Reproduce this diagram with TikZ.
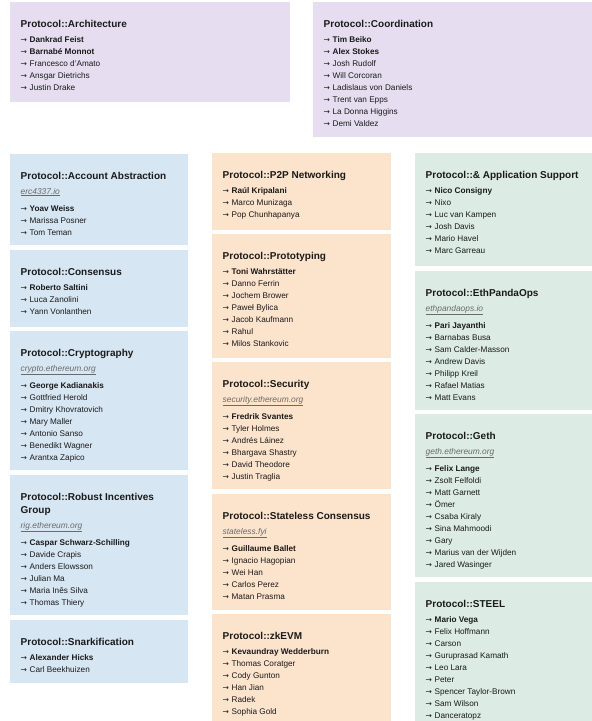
\documentclass[tikz,border=0pt]{standalone}
\usepackage{fontspec}
\setmainfont{Liberation Sans}
\newfontfamily\arrowfont{DejaVu Sans}
\usepackage{xcolor}
\usepackage{tikz}
\usetikzlibrary{positioning,calc}
\definecolor{tlav}{HTML}{E6DEF0}
\definecolor{tblue}{HTML}{D7E6F3}
\definecolor{tpeach}{HTML}{FCE3CC}
\definecolor{tmint}{HTML}{DCEBE4}
\definecolor{tink}{HTML}{1A1A1A}
\definecolor{tlink}{HTML}{6A6A6A}

\newcommand{\pointer}{{\arrowfont\fontsize{7.6}{10}\selectfont →}}

% one team card: [extra title space]{name}{corner}{size}{colour}{title}{link}{members}
\newcommand{\card}[8][0]{%
  \fill[#5] (#3) rectangle ++(#4);
  \coordinate (#2) at (#3);
  \node[ttl] (#2-t) at ($(#2)+(10.5,25.5)$) {#6};
  \if\relax\detokenize{#7}\relax
    \coordinate (#2-s) at ($(#2-t.base west)+(0,15+#1)$);
  \else
    \node[lnk] (#2-l) at ($(#2-t.base west)+(0,14.5+#1)$) {\underline{#7}};
    \coordinate (#2-s) at ($(#2-l.base west)+(0,17)$);
  \fi
  \foreach \who [count=\k from 0] in {#8}
    \node[itm] (#2-\k) at ($(#2-s)+(0,12*\k)$) {\pointer\hspace{2.6pt}\who};
}

\begin{document}
\begin{tikzpicture}[x=1pt, y=-1pt,
  ttl/.style={anchor=base west, inner sep=0pt, text=tink, font=\fontsize{10}{12}\selectfont\bfseries},
  itm/.style={anchor=base west, inner sep=0pt, text=tink, font=\fontsize{8.2}{10}\selectfont},
  lnk/.style={anchor=base west, inner sep=0pt, text=tlink, font=\fontsize{8.4}{10}\selectfont\itshape}]
\clip (0,0) rectangle (592,721);

% --- top row ---
\card{arch}{10,2}{280,100}{tlav}{Protocol::Architecture}{}
  {\textbf{Dankrad Feist}, \textbf{Barnabé Monnot}, Francesco d’Amato, Ansgar Dietrichs, Justin Drake}
\card{coord}{313,2}{290,135}{tlav}{Protocol::Coordination}{}
  {\textbf{Tim Beiko}, \textbf{Alex Stokes}, Josh Rudolf, Will Corcoran, Ladislaus von Daniels, Trent van Epps, La Donna Higgins, Demi Valdez}

% --- left column ---
\card{aa}{10,154}{178,91}{tblue}{Protocol::Account Abstraction}{erc4337.io}
  {\textbf{Yoav Weiss}, Marissa Posner, Tom Teman}
\card{cons}{10,250}{178,77}{tblue}{Protocol::Consensus}{}
  {\textbf{Roberto Saltini}, Luca Zanolini, Yann Vonlanthen}
\card{crypto}{10,331}{178,139}{tblue}{Protocol::Cryptography}{crypto.ethereum.org}
  {\textbf{George Kadianakis}, Gottfried Herold, Dmitry Khovratovich, Mary Maller, Antonio Sanso, Benedikt Wagner, Arantxa Zapico}
\card[13]{rig}{10,475}{178,140}{tblue}{Protocol::Robust Incentives}{rig.ethereum.org}
  {\textbf{Caspar Schwarz-Schilling}, Davide Crapis, Anders Elowsson, Julian Ma, Maria Inês Silva, Thomas Thiery}
\node[ttl] (rig-t2) at ($(rig-t.base west)+(0,13)$) {Group};
\card{snark}{10,620}{178,63}{tblue}{Protocol::Snarkification}{}
  {\textbf{Alexander Hicks}, Carl Beekhuizen}

% --- middle column ---
\card{ptp}{212,153}{179,77}{tpeach}{Protocol::P2P Networking}{}
  {\textbf{Raúl Kripalani}, Marco Munizaga, Pop Chunhapanya}
\card{proto}{212,234}{179,124}{tpeach}{Protocol::Prototyping}{}
  {\textbf{Toni Wahrstätter}, Danno Ferrin, Jochem Brower, Paweł Bylica, Jacob Kaufmann, Rahul, Milos Stankovic}
\card{sec}{212,362}{179,127}{tpeach}{Protocol::Security}{security.ethereum.org}
  {\textbf{Fredrik Svantes}, Tyler Holmes, Andrés Láinez, Bhargava Shastry, David Theodore, Justin Traglia}
\card{stateless}{212,494}{179,116}{tpeach}{Protocol::Stateless Consensus}{stateless.fyi}
  {\textbf{Guillaume Ballet}, Ignacio Hagopian, Wei Han, Carlos Perez, Matan Prasma}
\card{zkevm}{212,614}{179,130}{tpeach}{Protocol::zkEVM}{}
  {\textbf{Kevaundray Wedderburn}, Thomas Coratger, Cody Gunton, Han Jian, Radek, Sophia Gold}

% --- right column ---
\card{app}{415,153}{190,113}{tmint}{Protocol::\& Application Support}{}
  {\textbf{Nico Consigny}, Nixo, Luc van Kampen, Josh Davis, Mario Havel, Marc Garreau}
\card{panda}{415,271}{190,139}{tmint}{Protocol::EthPandaOps}{ethpandaops.io}
  {\textbf{Pari Jayanthi}, Barnabas Busa, Sam Calder-Masson, Andrew Davis, Philipp Kreil, Rafael Matias, Matt Evans}
\card{geth}{415,414}{190,163}{tmint}{Protocol::Geth}{geth.ethereum.org}
  {\textbf{Felix Lange}, Zsolt Felfoldi, Matt Garnett, Ömer, Csaba Kiraly, Sina Mahmoodi, Gary, Marius van der Wijden, Jared Wasinger}
\card{steel}{415,582}{190,160}{tmint}{Protocol::STEEL}{}
  {\textbf{Mario Vega}, Felix Hoffmann, Carson, Guruprasad Kamath, Leo Lara, Peter, Spencer Taylor-Brown, Sam Wilson, Danceratopz}
\end{tikzpicture}
\end{document}
